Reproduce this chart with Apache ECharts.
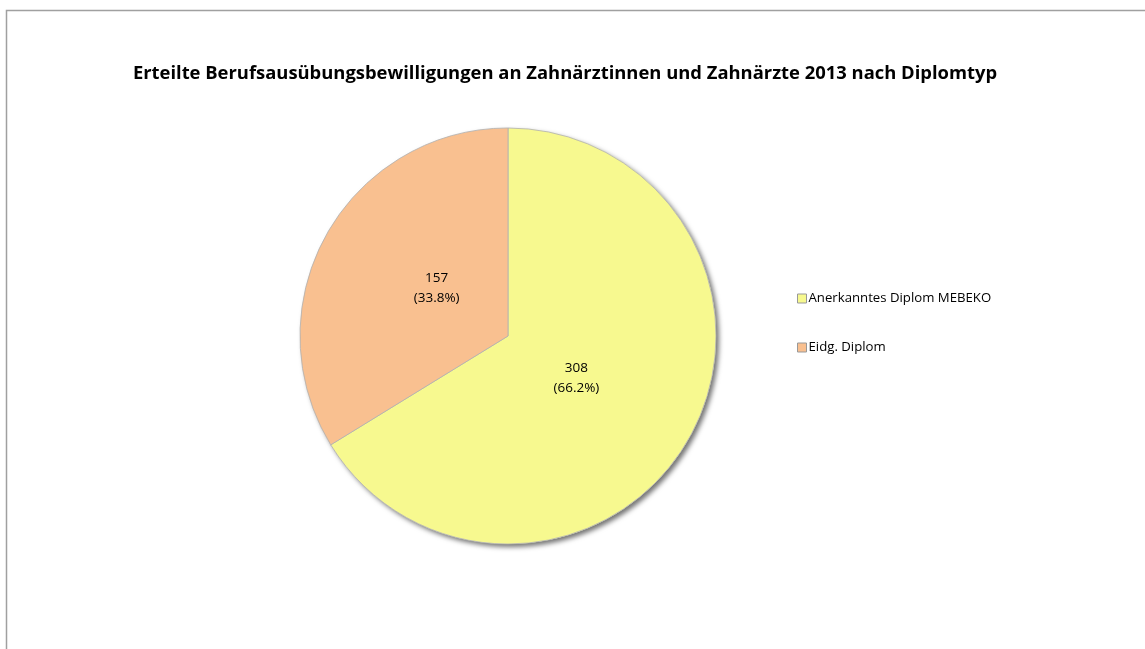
<!DOCTYPE html>
<html>
<head>
<meta charset="utf-8">
<script src="https://cdn.jsdelivr.net/npm/echarts@6/dist/echarts.min.js"></script>
<style>
  html, body { margin: 0; padding: 0; background: #fff; }
  #main { width: 1145px; height: 649px; }
</style>
</head>
<body>
<div id="main"></div>
<script>
// Werte aus der Grafik
var categories = ['Anerkanntes Diplom MEBEKO', 'Eidg. Diplom'];
var values = [308, 157];
var colors = ['#F7F98F', '#F9C090'];
var labelOffsets = [[-25, -10], [22, 4]];

var font = 'Open Sans';
var chart = echarts.init(document.getElementById('main'));

var total = values.reduce(function (a, b) { return a + b; }, 0);

var option = {
    backgroundColor: '#fff',
    title: {
        text: 'Erteilte Berufsausübungsbewilligungen an Zahnärztinnen und Zahnärzte 2013 nach Diplomtyp',
        left: 560,
        textAlign: 'center',
        top: 60,
        textStyle: {
            fontFamily: font,
            fontSize: 18.4,
            fontWeight: 'bold',
            color: '#000'
        }
    },
    legend: {
        orient: 'vertical',
        left: 792,
        top: 287,
        itemGap: 36,
        itemWidth: 9,
        itemHeight: 9,
        icon: 'rect',
        itemStyle: { borderColor: '#999', borderWidth: 1 },
        textStyle: { fontFamily: font, fontSize: 13.2, color: '#000', padding: [0, 0, 0, -3] },
        data: categories
    },
    graphic: [{
        type: 'rect',
        shape: { x: 6.5, y: 10.5, width: 1200, height: 700 },
        style: { fill: 'none', stroke: '#a0a0a0', lineWidth: 1.5 },
        silent: true
    }],
    series: [{
        // Schatten hinter dem ganzen Kreis
        type: 'pie',
        center: [508, 336],
        radius: 208,
        silent: true,
        animation: false,
        z: 1,
        label: { show: false },
        labelLine: { show: false },
        itemStyle: {
            color: '#fff',
            shadowColor: 'rgba(0,0,0,0.55)',
            shadowBlur: 5,
            shadowOffsetX: 3,
            shadowOffsetY: 3
        },
        data: [{ name: '', value: total }]
    }, {
        type: 'pie',
        center: [508, 336],
        radius: 208,
        startAngle: 90,
        clockwise: true,
        animation: false,
        z: 2,
        itemStyle: {
            borderColor: '#b0b0b0',
            borderWidth: 0.8
        },
        label: {
            position: 'inside',
            fontFamily: font,
            fontSize: 13.5,
            lineHeight: 20,
            color: '#000',
            formatter: function (p) {
                return p.value + '\n(' + (p.value / total * 100).toFixed(1) + '%)';
            }
        },
        labelLine: { show: false },
        emphasis: { disabled: true },
        data: categories.map(function (c, i) {
            return {
                name: c,
                value: values[i],
                itemStyle: { color: colors[i] },
                label: { offset: labelOffsets[i] }
            };
        })
    }]
};

chart.setOption(option);
</script>
</body>
</html>
